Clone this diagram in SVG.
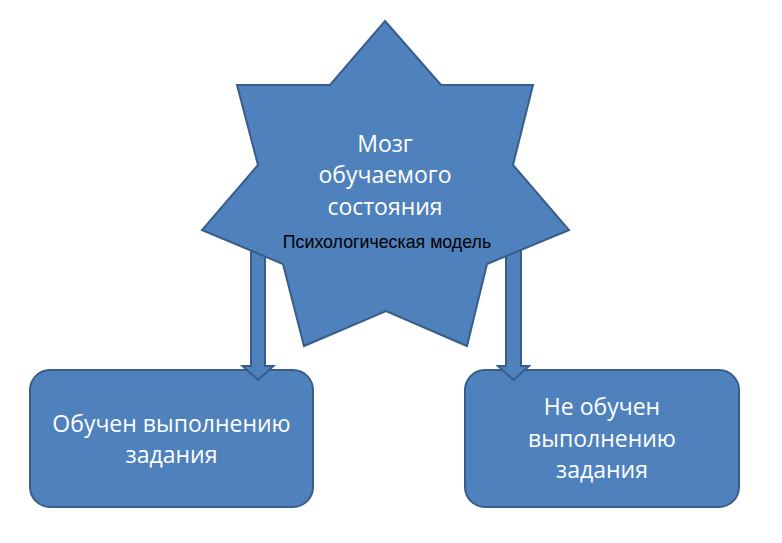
<svg xmlns="http://www.w3.org/2000/svg" width="782" height="543" viewBox="0 0 782 543">
<style>
.shape{fill:#4F81BD;stroke:#385D8A;stroke-width:2;stroke-linejoin:miter}
.wt{fill:#FFFFFF;font-family:"Open Sans","Noto Sans","Liberation Sans",sans-serif;font-size:23px;text-anchor:middle}
.bt{fill:#000000;font-family:"Liberation Sans",Arial,sans-serif;font-size:17.8px;text-anchor:middle}
</style>
<rect width="782" height="543" fill="#FFFFFF"/>
<g id="node-trained">
<rect class="shape" x="30" y="370" width="283" height="137" rx="20" ry="20"/>
<text class="wt" x="171.5" y="432">Обучен выполнению</text>
<text class="wt" x="171.5" y="463">задания</text>
</g>
<g id="node-untrained">
<rect class="shape" x="465" y="370" width="274" height="137" rx="20" ry="20"/>
<text class="wt" x="602" y="415">Не обучен</text>
<text class="wt" x="602" y="447">выполнению</text>
<text class="wt" x="602" y="478">задания</text>
</g>
<g id="connectors">
<polygon class="shape" points="251,220 265,220 265,366 273.5,366 258,380 242.5,366 251,366"/>
<polygon class="shape" points="506,220 521,220 521,366 529,366 513.5,380 498,366 506,366"/>
</g>
<g id="node-brain">
<polygon class="shape" points="385,21 441,85 533,85 513,165 569,230 487,264 467,346 386,311 304,346 283,264 202,230 258,165 237,85 330,85"/>
<text class="wt" x="385" y="152">Мозг</text>
<text class="wt" x="385" y="183">обучаемого</text>
<text class="wt" x="385" y="215">состояния</text>
<text class="bt" x="387" y="248">Психологическая модель</text>
</g>
</svg>
